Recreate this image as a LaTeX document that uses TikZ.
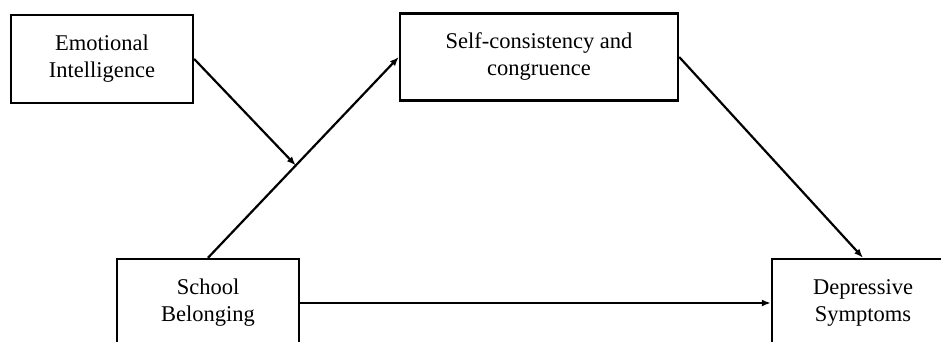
\documentclass[tikz,border=0pt]{standalone}
\usepackage{fontspec}
\setmainfont{Liberation Serif}
\usetikzlibrary{arrows.meta,calc}
\begin{document}
\begin{tikzpicture}[x=1pt,y=-1pt,
  varbox/.style={draw,line width=2.4pt,align=center,inner sep=0pt,
    font=\fontsize{22.5}{27}\selectfont},
  conn/.style={line width=2.2pt,-{Latex[length=9pt,width=7pt]}}]
\useasboundingbox (0,0) rectangle (941,342);
\node[varbox,minimum width=182pt,minimum height=88pt] (ei) at (102,59) {Emotional\\Intelligence};
\node[varbox,minimum width=278pt,minimum height=87pt] (sc) at (539,57) {Self-consistency and\\congruence};
\node[varbox,minimum width=182pt,minimum height=88pt] (sb) at (208,303) {School\\Belonging};
\node[varbox,minimum width=182pt,minimum height=88pt] (ds) at (863,303) {Depressive\\Symptoms};
\coordinate (m) at ($(sb.north)!0.46!(sc.west)$);
\draw[conn] (sb.north) -- (sc.west);
\draw[conn] (ei.east) -- (m);
\draw[conn] (sc.east) -- (ds.north);
\draw[conn] (sb.east) -- (ds.west);
\end{tikzpicture}
\end{document}
